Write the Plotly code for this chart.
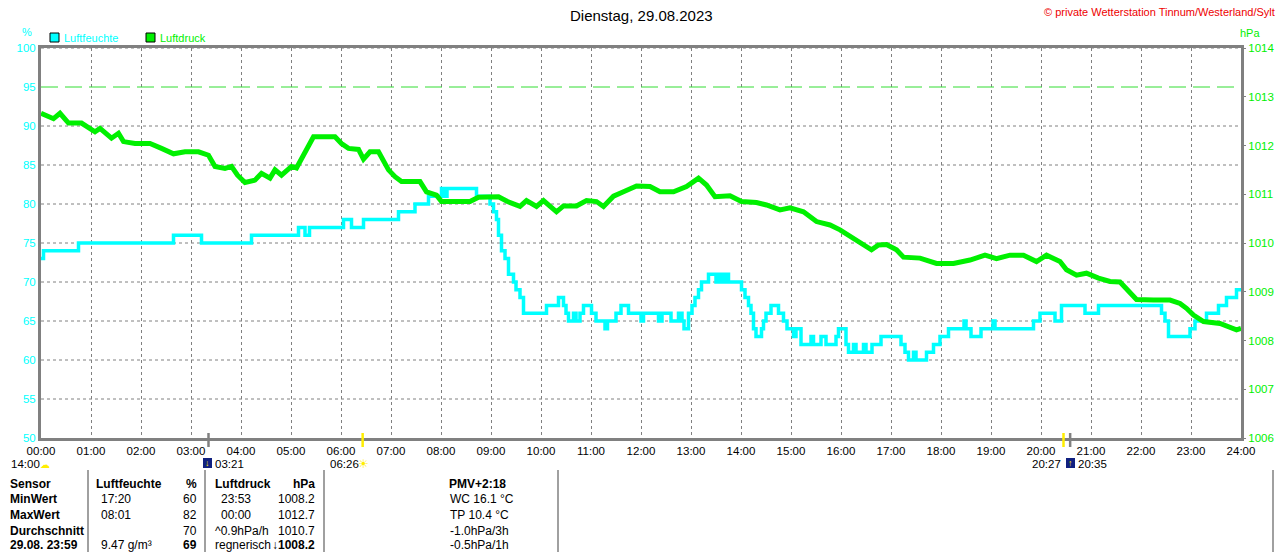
import plotly.graph_objects as go

# ======================================
# DATA
# ======================================

hum_time = [
    0.00, 0.05, 0.75, 2.65, 3.21, 4.21, 5.15, 5.28, 5.37, 6.05, 6.21, 6.45,
    7.15, 7.48, 7.75, 8.01, 8.08, 8.12, 8.71, 8.98, 9.05, 9.11, 9.15, 9.21,
    9.28, 9.35, 9.45, 9.50, 9.58, 9.65, 10.11, 10.35, 10.45, 10.50, 10.55,
    10.65, 10.70, 10.78, 10.85, 11.01, 11.10, 11.28, 11.33, 11.50, 11.60,
    11.75, 12.00, 12.05, 12.35, 12.42, 12.60, 12.75, 12.82, 12.86, 12.95,
    13.02, 13.08, 13.15, 13.21, 13.35, 13.50, 13.55, 13.62, 13.68, 13.75,
    14.01, 14.08, 14.15, 14.20, 14.25, 14.30, 14.41, 14.45, 14.50, 14.60,
    14.75, 14.85, 14.92, 15.05, 15.10, 15.20, 15.40, 15.45, 15.60, 15.70,
    15.90, 15.95, 16.10, 16.15, 16.25, 16.30, 16.45, 16.50, 16.62, 16.80,
    17.20, 17.28, 17.35, 17.45, 17.50, 17.71, 17.85, 17.98, 18.15, 18.46,
    18.50, 18.60, 18.80, 19.04, 19.08, 19.85, 19.98, 20.28, 20.41, 20.88,
    21.15, 22.41, 22.48, 22.55, 22.98, 23.08, 23.31, 23.55, 23.71, 23.91,
    24.00,
]
hum_val = [
    73, 74, 75, 76, 75, 76, 77, 76, 77, 78, 77, 78,
    79, 80, 81, 82, 81, 82, 81, 80, 79, 78, 76, 74,
    73, 71, 70, 69, 68, 66, 67, 68, 67, 66, 65,
    66, 65, 66, 67, 66, 65, 64, 65, 66, 67,
    66, 65, 66, 65, 66, 65, 66, 65, 64, 66,
    67, 68, 69, 70, 71, 70, 71, 70, 71, 70,
    69, 68, 67, 66, 64, 63, 64, 65, 66, 67,
    66, 65, 64, 63, 64, 62, 63, 62, 63, 62,
    63, 64, 62, 61, 62, 61, 62, 61, 62, 63,
    62, 61, 60, 61, 60, 61, 62, 63, 64, 65,
    64, 63, 64, 65, 64, 65, 66, 65, 67, 66,
    67, 66, 65, 63, 64, 65, 66, 67, 68, 69,
    69,
]

druck_time = [
    0.00, 0.10, 0.25, 0.38, 0.55, 0.81, 1.08, 1.18, 1.41, 1.55, 1.65, 1.88,
    2.18, 2.41, 2.65, 2.88, 3.15, 3.35, 3.48, 3.68, 3.81, 3.93, 4.08, 4.28,
    4.41, 4.58, 4.68, 4.81, 5.01, 5.11, 5.21, 5.35, 5.45, 5.88, 6.01, 6.15,
    6.35, 6.45, 6.58, 6.75, 6.85, 6.95, 7.08, 7.21, 7.58, 7.71, 7.91, 8.01,
    8.25, 8.58, 8.75, 8.98, 9.15, 9.33, 9.58, 9.71, 9.91, 10.05, 10.31, 10.45,
    10.71, 10.91, 11.11, 11.25, 11.45, 11.65, 11.91, 12.18, 12.38, 12.65,
    12.91, 13.15, 13.31, 13.48, 13.78, 14.01, 14.31, 14.51, 14.78, 14.98,
    15.25, 15.51, 15.78, 15.98, 16.25, 16.45, 16.61, 16.75, 16.91, 17.11,
    17.25, 17.58, 17.91, 18.25, 18.58, 18.88, 19.11, 19.38, 19.65, 19.91,
    20.11, 20.38, 20.51, 20.71, 20.91, 21.15, 21.38, 21.58, 21.78, 21.91,
    22.25, 22.58, 22.78, 22.91, 23.05, 23.25, 23.58, 23.78, 23.91, 24.00,
]
druck_val = [
    1012.66, 1012.62, 1012.55, 1012.66, 1012.46, 1012.46, 1012.28, 1012.35,
    1012.15, 1012.25, 1012.08, 1012.04, 1012.04, 1011.94, 1011.83, 1011.87,
    1011.87, 1011.80, 1011.57, 1011.53, 1011.57, 1011.39, 1011.24, 1011.29,
    1011.43, 1011.33, 1011.50, 1011.39, 1011.57, 1011.54, 1011.74, 1011.98,
    1012.18, 1012.18, 1012.04, 1011.94, 1011.92, 1011.72, 1011.87, 1011.87,
    1011.70, 1011.50, 1011.36, 1011.26, 1011.26, 1011.05, 1010.98, 1010.85,
    1010.85, 1010.85, 1010.94, 1010.94, 1010.95, 1010.85, 1010.75, 1010.87,
    1010.75, 1010.87, 1010.64, 1010.76, 1010.76, 1010.87, 1010.85, 1010.75,
    1010.96, 1011.05, 1011.17, 1011.16, 1011.05, 1011.05, 1011.16, 1011.33,
    1011.19, 1010.95, 1010.97, 1010.85, 1010.83, 1010.78, 1010.68, 1010.72,
    1010.64, 1010.44, 1010.37, 1010.27, 1010.10, 1009.99, 1009.86, 1009.96,
    1009.97, 1009.86, 1009.71, 1009.69, 1009.58, 1009.58, 1009.65, 1009.75,
    1009.68, 1009.75, 1009.75, 1009.62, 1009.75, 1009.62, 1009.45, 1009.34,
    1009.38, 1009.28, 1009.21, 1009.20, 1009.00, 1008.84, 1008.83, 1008.83,
    1008.76, 1008.66, 1008.52, 1008.39, 1008.35, 1008.28, 1008.22, 1008.25,
]

hour_ticks = list(range(25))
hour_labels = ["%02d:00" % h for h in hour_ticks]

hum_ticks = [50, 55, 60, 65, 70, 75, 80, 85, 90, 95, 100]
druck_ticks = [1006, 1007, 1008, 1009, 1010, 1011, 1012, 1013, 1014]
grid_values = [55, 60, 65, 70, 75, 80, 85, 90, 100]
limit_value = 95

# sun / moon events (hours)
moon_set = 3.35
sun_rise = 6.433
sun_set = 20.45
moon_rise = 20.583

table_col1 = ["Sensor", "MinWert", "MaxWert", "Durchschnitt", "29.08. 23:59"]
table_col2 = ["Luftfeuchte", "17:20", "08:01", "", "9.47 g/m³"]
table_col3 = ["%", "60", "82", "70", "69"]
table_col4 = ["Luftdruck", "23:53", "00:00", "^0.9hPa/h", "regnerisch"]
table_col5 = ["hPa", "1008.2", "1012.7", "1010.7", "↓1008.2"]
table_col6 = ["PMV+2:18", "WC 16.1 °C", "TP 10.4 °C", "-1.0hPa/3h", "-0.5hPa/1h"]

CYAN = "#00ffff"
GREEN = "#00f000"
GRAY = "#808080"
FONT = "Liberation Sans, Arial, sans-serif"


def px_x(px):
    return (px - 41) / 1200


def px_y(py):
    return (438 - py) / 390


# ======================================
# FIGURE
# ======================================

fig = go.Figure()

fig.add_trace(go.Scatter(
    x=druck_time, y=druck_val, yaxis="y2", mode="lines",
    line=dict(color=GREEN, width=5), name="Luftdruck",
))
fig.add_trace(go.Scatter(
    x=hum_time, y=hum_val, mode="lines", line_shape="hv",
    line=dict(color=CYAN, width=3.5), name="Luftfeuchte",
))

shapes = []
for g in grid_values:
    shapes.append(dict(type="line", xref="x", yref="y", x0=0, x1=24, y0=g, y1=g,
                       line=dict(color=GRAY, width=1, dash="3px,3px"), layer="between"))
shapes.append(dict(type="line", xref="x", yref="y", x0=0, x1=24,
                   y0=limit_value, y1=limit_value,
                   line=dict(color="#33dd33", width=1, dash="17px,7px"), layer="between"))

# sun / moon markers on the time axis
for t, c in [(moon_set, GRAY), (moon_rise, GRAY), (sun_rise, "#ffee00"), (sun_set, "#ffee00")]:
    shapes.append(dict(type="line", xref="x", yref="paper", x0=t, x1=t,
                       y0=px_y(447), y1=px_y(433), line=dict(color=c, width=2.5)))

# legend squares
shapes.append(dict(type="rect", xref="paper", yref="paper", x0=px_x(50), x1=px_x(59),
                   y0=px_y(42), y1=px_y(33), fillcolor=CYAN, line=dict(color="black", width=1)))
shapes.append(dict(type="rect", xref="paper", yref="paper", x0=px_x(146), x1=px_x(155),
                   y0=px_y(42), y1=px_y(33), fillcolor=GREEN, line=dict(color="black", width=1)))

# moon icons
for x0 in [203, 1066]:
    shapes.append(dict(type="rect", xref="paper", yref="paper", x0=px_x(x0), x1=px_x(x0 + 9),
                       y0=px_y(468), y1=px_y(458), fillcolor="#102080", line=dict(width=0)))

# table separators
for lx in [88, 205, 324, 558, 1273]:
    shapes.append(dict(type="line", xref="paper", yref="paper", x0=px_x(lx), x1=px_x(lx),
                       y0=px_y(470), y1=px_y(552), line=dict(color=GRAY, width=1.5)))

ann = []


def text(s, px, py, color="black", size=11, anchor="left", bold=False):
    ann.append(dict(
        text="<b>%s</b>" % s if bold else s, x=px_x(px), y=px_y(py),
        xref="paper", yref="paper", xanchor=anchor, yanchor="middle",
        showarrow=False, font=dict(family=FONT, size=size, color=color),
    ))


text("Dienstag, 29.08.2023", 641, 15, size=15, anchor="center")
text("© private Wetterstation Tinnum/Westerland/Sylt", 1277, 12, color="#ee0000", anchor="right")
text("%", 27, 32, color=CYAN, anchor="center")
text("hPa", 1250, 33, color=GREEN, anchor="center")
text("Luftfeuchte", 62, 38, color=CYAN)
text("Luftdruck", 158, 38, color=GREEN)

text("14:00", 9, 464, size=11.5)
text("☁", 38, 464, color="#ffee00", size=10)
text("↓", 207.5, 463, color="#ffee00", size=9, anchor="center")
text("03:21", 213, 464, size=11.5)
text("06:26", 328, 464, size=11.5)
text("☀", 356, 464, color="#ffee00", size=12)
text("20:27", 1030, 464, size=11.5)
text("↑", 1070.5, 463, color="#ffee00", size=9, anchor="center")
text("20:35", 1076, 464, size=11.5)

row_y = [484, 499.5, 515, 530.5, 545]
for i, y in enumerate(row_y):
    head = i == 0
    text(table_col1[i], 8, y, size=12, bold=True)
    text(table_col2[i], 94 if head else 99, y, size=12, bold=head)
    text(table_col3[i], 199, y, size=12, anchor="right", bold=head or i == 4)
    text(table_col4[i], 213 if (head or i >= 3) else 219, y, size=12, bold=head)
    text(table_col5[i], 317, y, size=12, anchor="right", bold=head or i == 4)
    if head:
        text(table_col6[i], 477, y, size=12, anchor="center", bold=True)
    else:
        text(table_col6[i], 448, y, size=12)

fig.update_layout(
    width=1280, height=552, autosize=False,
    margin=dict(l=41, r=39, t=48, b=114, pad=0, autoexpand=False),
    paper_bgcolor="white", plot_bgcolor="white",
    showlegend=False,
    font=dict(family=FONT, size=11, color="black"),
    shapes=shapes, annotations=ann,
    xaxis=dict(
        range=[0, 24], tickvals=hour_ticks, ticktext=hour_labels,
        showgrid=True, gridcolor=GRAY, griddash="3px,3px", gridwidth=1,
        showline=True, linecolor=GRAY, linewidth=3, mirror=True,
        ticks="", tickfont=dict(size=11.5, color="black"), zeroline=False,
        automargin=False,
    ),
    yaxis=dict(
        range=[50, 100], tickvals=hum_ticks, showgrid=False,
        showline=True, linecolor=GRAY, linewidth=3, mirror=True,
        ticks="", tickfont=dict(size=11.5, color=CYAN), zeroline=False,
        automargin=False,
    ),
    yaxis2=dict(
        range=[1006, 1014], tickvals=druck_ticks, overlaying="y", side="right",
        showgrid=False, zeroline=False, ticks="outside", ticklen=4, tickcolor=GRAY,
        tickfont=dict(size=11.5, color=GREEN), automargin=False,
    ),
)

# page margin off, so the figure sits at the window's corner
fig.write_html(
    "out.html",
    config={"displayModeBar": False},
    post_script="document.body.style.margin='0';document.body.style.overflow='hidden';"
)
